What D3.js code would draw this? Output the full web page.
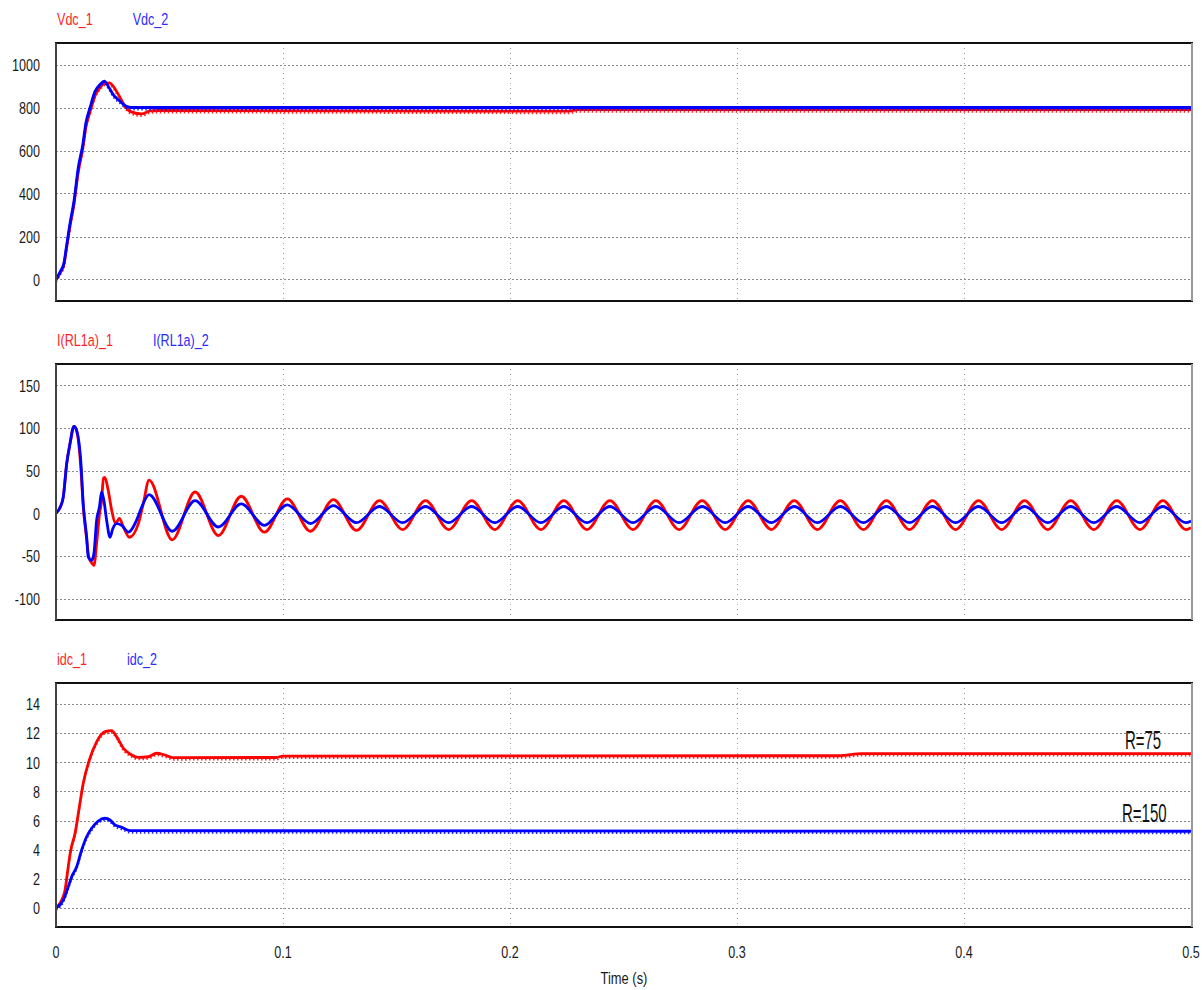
<!DOCTYPE html>
<html>
<head>
<meta charset="utf-8">
<script src="https://cdn.jsdelivr.net/npm/d3@7"></script>
<style>
  body { margin: 0; background: #fff; }
  svg { display: block; }
  text { font-family: "Liberation Sans", Arial, sans-serif; }
</style>
</head>
<body>
<svg id="chart" width="1202" height="990"></svg>
<script>
// ---- time axis ----
const timeTicks = [0, 0.1, 0.2, 0.3, 0.4, 0.5];
const timeTickLabels = ["0", "0.1", "0.2", "0.3", "0.4", "0.5"];
const timeTitle = "Time (s)";

// ---- DC link voltage (V) ----
const vdcTicks = [0, 200, 400, 600, 800, 1000];
const vdcNames = ["Vdc_1", "Vdc_2"];
const vdc1Time = [0, 0.0018, 0.0035, 0.0047, 0.0062, 0.0079, 0.0098, 0.0118, 0.0132, 0.015, 0.0172, 0.0194, 0.0213, 0.0235, 0.0255, 0.0275, 0.0304, 0.0326, 0.0377, 0.0414, 0.045, 0.226, 0.23, 0.5];
const vdc1 = [0, 30, 70, 150, 250, 350, 500, 610, 710, 780, 855, 893, 912, 915, 895, 860, 806, 782, 770, 784, 786, 783, 790, 790];
const vdc2Time = [0, 0.0018, 0.0035, 0.0047, 0.0062, 0.0079, 0.0098, 0.0118, 0.0132, 0.015, 0.0172, 0.0194, 0.0213, 0.023, 0.0252, 0.0282, 0.031, 0.0333, 0.5];
const vdc2 = [0, 36, 77, 160, 263, 363, 520, 627, 730, 800, 875, 907, 922, 899, 860, 829, 806, 800, 800];

// ---- load phase current (A) ----
const rlTicks = [-100, -50, 0, 50, 100, 150];
const rlNames = ["I(RL1a)_1", "I(RL1a)_2"];
// start-up transient
const rl1Time = [0, 0.0018, 0.0032, 0.0047, 0.0062, 0.0079, 0.0091, 0.0109, 0.012, 0.0135, 0.0145, 0.016, 0.0167, 0.0179, 0.0192, 0.0201, 0.0209, 0.0215, 0.023, 0.0245, 0.0262, 0.0279, 0.0297, 0.0323, 0.0363, 0.0385];
const rl1 = [0, 7, 19, 58, 82, 102, 97, 55, 8, -30, -52, -59, -61, -35, 0, 15, 41, 42, 27, 4, -12, -6, -16, -28, -12, 12];
const rl2Time = [0, 0.0018, 0.0032, 0.0047, 0.0062, 0.0079, 0.0091, 0.0109, 0.012, 0.0135, 0.0142, 0.0157, 0.0167, 0.0179, 0.0191, 0.0201, 0.0211, 0.0223, 0.0238, 0.025, 0.0267, 0.0289, 0.0319, 0.0355, 0.0377];
const rl2 = [0, 7, 19, 58, 82, 102, 97, 62, 11, -28, -51, -55, -47, -8, 7, 25, 15, -8, -28, -18, -12, -14, -22, -8, 7];
// settling oscillation: alternating crests and troughs
const rlOscTime = [0.041, 0.0512, 0.0613, 0.0715, 0.0816, 0.0918, 0.1019, 0.1121, 0.1222, 0.1324, 0.1425, 0.1527, 0.1628, 0.173, 0.1831, 0.1933, 0.2034, 0.2136, 0.2237, 0.2339, 0.244, 0.2542, 0.2643, 0.2745, 0.2846, 0.2948, 0.3049, 0.3151, 0.3252, 0.3354, 0.3455, 0.3557, 0.3658, 0.376, 0.3861, 0.3963, 0.4064, 0.4166, 0.4267, 0.4369, 0.447, 0.4572, 0.4673, 0.4775, 0.4876, 0.4978, 0.5];
const rl1Osc = [39, -31, 25, -26, 20, -22, 17, -21, 16, -20, 15, -19, 15, -19, 15, -19, 15, -19, 15, -19, 15, -19, 15, -19, 15, -19, 15, -19, 15, -19, 15, -19, 15, -19, 15, -19, 15, -19, 15, -19, 15, -19, 15, -19, 15, -19, -17];
const rl2Osc = [22, -21, 15, -16, 11, -14, 10, -12, 9, -11, 8, -11, 8, -11, 8, -11, 8, -11, 8, -11, 8, -11, 8, -11, 8, -11, 8, -11, 8, -11, 8, -11, 8, -11, 8, -11, 8, -11, 8, -11, 8, -11, 8, -11, 8, -11, -9];

// ---- DC current (A) ----
const idcTicks = [0, 2, 4, 6, 8, 10, 12, 14];
const idcNames = ["idc_1", "idc_2"];
const idc1Time = [0, 0.0025, 0.004, 0.005, 0.0065, 0.0084, 0.0103, 0.012, 0.0147, 0.0179, 0.0216, 0.0245, 0.0267, 0.0297, 0.0326, 0.0363, 0.0407, 0.0443, 0.048, 0.0517, 0.097, 0.1, 0.345, 0.355, 0.5];
const idc1 = [0, 0.55, 1.24, 2.38, 3.98, 5.13, 6.95, 8.56, 10.16, 11.4, 12.1, 12.17, 11.76, 10.96, 10.57, 10.34, 10.38, 10.62, 10.5, 10.32, 10.33, 10.43, 10.45, 10.6, 10.6];
const idc2Time = [0, 0.0032, 0.0054, 0.0069, 0.0091, 0.0113, 0.0135, 0.0157, 0.0186, 0.0216, 0.0238, 0.026, 0.0289, 0.0326, 0.5];
const idc2 = [0, 0.55, 1.46, 2.15, 2.83, 3.98, 4.89, 5.47, 5.97, 6.16, 6.04, 5.7, 5.54, 5.31, 5.27];
// load annotations
const loadLabels = ["R=75", "R=150"];
const loadLabelTime = [0.4709, 0.4696];
const loadLabelValue = [10.9, 5.93];

const seriesColors = ["#ff0000", "#0000ff"];
const legendColors = ["#ff1f1f", "#2b2bff"];

// ---- layout ----
const svg = d3.select("#chart");
svg.append("rect").attr("width", 1202).attr("height", 990).attr("fill", "#fff");

const x = d3.scaleLinear().domain([0, 0.5]).range([56, 1191]);
const plotLeft = 56, plotRight = 1192;

const zip = (ts, vs) => ts.map((t, i) => ({ t, v: vs[i] }));

const panels = [
  { top: 43, bottom: 301, domain: [-100, 1100], ticks: vdcTicks, names: vdcNames,
    series: [zip(vdc1Time, vdc1), zip(vdc2Time, vdc2)], comb: true },
  { top: 364, bottom: 620, domain: [-125, 175], ticks: rlTicks, names: rlNames,
    series: [zip(rl1Time, rl1).concat(zip(rlOscTime, rl1Osc)),
             zip(rl2Time, rl2).concat(zip(rlOscTime, rl2Osc))], comb: false },
  { top: 683, bottom: 927, domain: [-1.3, 15.44], ticks: idcTicks, names: idcNames,
    series: [zip(idc1Time, idc1), zip(idc2Time, idc2)], comb: true }
];

// condensed text helper
function label(g, str, px, py, opts) {
  const o = Object.assign({ size: 17, sx: 0.74, anchor: "start", fill: "#1a1a1a", base: "auto" }, opts || {});
  return g.append("text")
    .attr("transform", `translate(${px},${py}) scale(${o.sx},1)`)
    .attr("text-anchor", o.anchor)
    .attr("dominant-baseline", o.base)
    .attr("font-size", o.size)
    .attr("fill", o.fill)
    .text(str);
}

panels.forEach((p, pi) => {
  const y = d3.scaleLinear().domain(p.domain).range([p.bottom, p.top]);
  const g = svg.append("g");

  // clip
  const clipId = "clip" + pi;
  svg.append("clipPath").attr("id", clipId)
    .append("rect").attr("x", plotLeft).attr("y", p.top)
    .attr("width", plotRight - plotLeft).attr("height", p.bottom - p.top);

  // horizontal grid
  g.append("g").selectAll("line").data(p.ticks).join("line")
    .attr("x1", plotLeft).attr("x2", plotRight)
    .attr("y1", d => Math.round(y(d)) + 0.5).attr("y2", d => Math.round(y(d)) + 0.5)
    .attr("stroke", "#8a8a8a").attr("stroke-width", 1).attr("stroke-dasharray", "2,2");

  // vertical grid
  g.append("g").selectAll("line").data(timeTicks.slice(1, -1)).join("line")
    .attr("x1", d => Math.round(x(d)) + 0.5).attr("x2", d => Math.round(x(d)) + 0.5)
    .attr("y1", p.top).attr("y2", p.bottom)
    .attr("stroke", "#9a9a9a").attr("stroke-width", 1).attr("stroke-dasharray", "1,4");

  // y tick labels
  p.ticks.forEach(t => label(g, String(t), 40, y(t), { anchor: "end", base: "central" }));

  // traces
  const line = d3.line().x(d => x(d.t)).y(d => y(d.v)).curve(d3.curveMonotoneX);
  const traces = g.append("g").attr("clip-path", `url(#${clipId})`);
  p.series.forEach((s, si) => {
    traces.append("path").datum(s).attr("d", line)
      .attr("fill", "none").attr("stroke", seriesColors[si])
      .attr("stroke-width", 2.8).attr("stroke-linejoin", "round");
    if (p.comb) {
      // ripple teeth along the underside of the trace
      traces.append("path").datum(s).attr("d", line)
        .attr("transform", "translate(0,2)")
        .attr("fill", "none").attr("stroke", seriesColors[si])
        .attr("stroke-width", 2).attr("stroke-dasharray", "1.5,2.5").attr("opacity", 0.85);
    }
  });

  // frame
  g.append("line").attr("x1", plotLeft - 1).attr("x2", plotRight + 1).attr("y1", p.top).attr("y2", p.top)
    .attr("stroke", "#111").attr("stroke-width", 2);
  g.append("line").attr("x1", plotLeft - 1).attr("x2", plotRight + 1).attr("y1", p.bottom).attr("y2", p.bottom)
    .attr("stroke", "#111").attr("stroke-width", 2);
  g.append("line").attr("x1", plotLeft).attr("x2", plotLeft).attr("y1", p.top).attr("y2", p.bottom)
    .attr("stroke", "#444").attr("stroke-width", 2);
  g.append("line").attr("x1", plotRight).attr("x2", plotRight).attr("y1", p.top).attr("y2", p.bottom)
    .attr("stroke", "#999").attr("stroke-width", 2);

  // legend
  const first = label(g, p.names[0], 57, p.top - 18, { fill: legendColors[0] });
  const w = first.node().getComputedTextLength() * 0.74;
  label(g, p.names[1], 57 + w + 40, p.top - 18, { fill: legendColors[1] });

  // load annotations on the dc current panel
  if (pi === 2) {
    loadLabels.forEach((s, i) =>
      label(g, s, x(loadLabelTime[i]), y(loadLabelValue[i]), { size: 25, sx: 0.6, fill: "#111" }));
  }
});

// x axis labels
const xg = svg.append("g");
timeTicks.forEach((t, i) => label(xg, timeTickLabels[i], x(t), 952, { anchor: "middle", base: "central" }));
label(xg, timeTitle, 624, 978, { anchor: "middle", base: "central", sx: 0.76 });
</script>
</body>
</html>
